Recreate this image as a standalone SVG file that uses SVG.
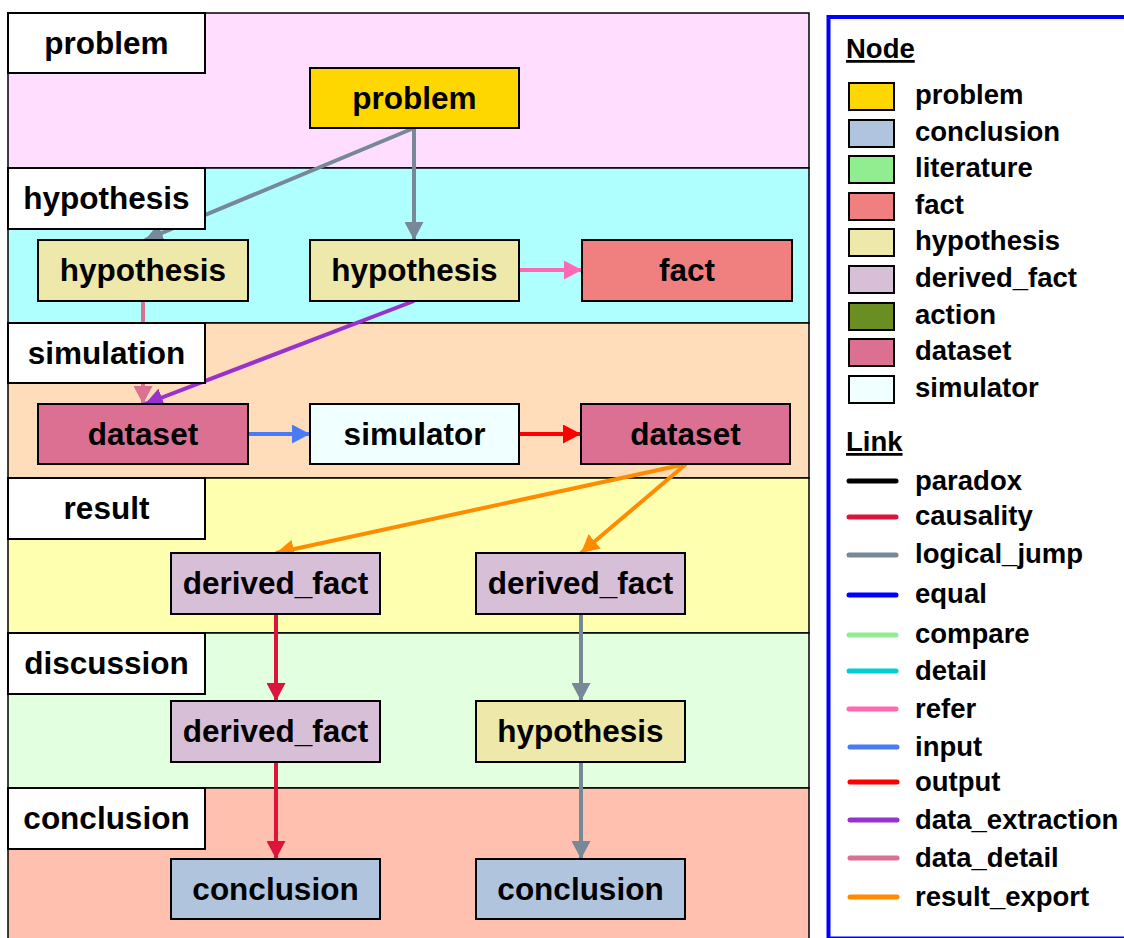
<svg xmlns="http://www.w3.org/2000/svg" width="1124" height="938" viewBox="0 0 1124 938">
<style>
text{font-family:"Liberation Sans",Arial,sans-serif;font-weight:bold;fill:#000}
.band{stroke:#000;stroke-width:1.5}
.lab{fill:#fff;stroke:#000;stroke-width:2}
.lab-t{font-size:31.5px;text-anchor:middle}
.node rect{stroke:#000;stroke-width:2}
.node text{font-size:31.5px;text-anchor:middle}
.conn line{stroke-width:4;fill:none}
.leg{font-size:27.5px}
.sw{stroke:#000;stroke-width:2}
.ll{stroke-width:5;stroke-linecap:round}
</style>
<defs>
<marker id="a-gray" markerUnits="userSpaceOnUse" markerWidth="18" markerHeight="19" refX="18" refY="9.5" orient="auto"><path d="M0,0L18,9.5L0,19z" fill="#778899"/></marker>
<marker id="a-pink" markerUnits="userSpaceOnUse" markerWidth="18" markerHeight="19" refX="18" refY="9.5" orient="auto"><path d="M0,0L18,9.5L0,19z" fill="#FF69B4"/></marker>
<marker id="a-purple" markerUnits="userSpaceOnUse" markerWidth="18" markerHeight="19" refX="18" refY="9.5" orient="auto"><path d="M0,0L18,9.5L0,19z" fill="#9932CC"/></marker>
<marker id="a-dd" markerUnits="userSpaceOnUse" markerWidth="18" markerHeight="19" refX="18" refY="9.5" orient="auto"><path d="M0,0L18,9.5L0,19z" fill="#DB7093"/></marker>
<marker id="a-blue" markerUnits="userSpaceOnUse" markerWidth="18" markerHeight="19" refX="18" refY="9.5" orient="auto"><path d="M0,0L18,9.5L0,19z" fill="#4A7BF7"/></marker>
<marker id="a-red" markerUnits="userSpaceOnUse" markerWidth="18" markerHeight="19" refX="18" refY="9.5" orient="auto"><path d="M0,0L18,9.5L0,19z" fill="#FF0000"/></marker>
<marker id="a-orange" markerUnits="userSpaceOnUse" markerWidth="18" markerHeight="19" refX="18" refY="9.5" orient="auto"><path d="M0,0L18,9.5L0,19z" fill="#FF8C00"/></marker>
<marker id="a-crimson" markerUnits="userSpaceOnUse" markerWidth="18" markerHeight="19" refX="18" refY="9.5" orient="auto"><path d="M0,0L18,9.5L0,19z" fill="#DC143C"/></marker>
</defs>
<rect width="1124" height="938" fill="#fff"/>
<g id="bands">
<rect class="band" x="8" y="13" width="801" height="155" fill="#FFDDFF"/>
<rect class="band" x="8" y="168" width="801" height="155" fill="#B0FFFF"/>
<rect class="band" x="8" y="323" width="801" height="155" fill="#FFDDBB"/>
<rect class="band" x="8" y="478" width="801" height="155" fill="#FFFFB0"/>
<rect class="band" x="8" y="633" width="801" height="155" fill="#E2FFE0"/>
<rect class="band" x="8" y="788" width="801" height="160" fill="#FFC0B0"/>
</g>
<g id="connectors" class="conn">
<line x1="414" y1="128" x2="145" y2="240" stroke="#778899" marker-end="url(#a-gray)"/>
<line x1="414" y1="128" x2="414" y2="240" stroke="#778899" marker-end="url(#a-gray)"/>
<line x1="519" y1="270" x2="582" y2="270" stroke="#FF69B4" marker-end="url(#a-pink)"/>
<line x1="143" y1="301" x2="143" y2="404" stroke="#DB7093" marker-end="url(#a-dd)"/>
<line x1="414" y1="301" x2="145" y2="404" stroke="#9932CC" marker-end="url(#a-purple)"/>
<line x1="248" y1="434" x2="310" y2="434" stroke="#4A7BF7" marker-end="url(#a-blue)"/>
<line x1="519" y1="434" x2="581" y2="434" stroke="#FF0000" marker-end="url(#a-red)"/>
<line x1="686" y1="464" x2="276" y2="553" stroke="#FF8C00" marker-end="url(#a-orange)"/>
<line x1="686" y1="464" x2="581" y2="553" stroke="#FF8C00" marker-end="url(#a-orange)"/>
<line x1="276" y1="614" x2="276" y2="701" stroke="#DC143C" marker-end="url(#a-crimson)"/>
<line x1="276" y1="762" x2="276" y2="859" stroke="#DC143C" marker-end="url(#a-crimson)"/>
<line x1="581" y1="614" x2="581" y2="701" stroke="#778899" marker-end="url(#a-gray)"/>
<line x1="581" y1="762" x2="581" y2="859" stroke="#778899" marker-end="url(#a-gray)"/>
</g>
<g id="lane-labels">
<rect class="lab" x="8" y="13" width="197" height="60"/><text class="lab-t" x="106.5" y="54">problem</text>
<rect class="lab" x="8" y="168" width="197" height="61"/><text class="lab-t" x="106.5" y="209">hypothesis</text>
<rect class="lab" x="8" y="323" width="197" height="60"/><text class="lab-t" x="106.5" y="364">simulation</text>
<rect class="lab" x="8" y="478" width="197" height="61"/><text class="lab-t" x="106.5" y="519">result</text>
<rect class="lab" x="8" y="633" width="197" height="61"/><text class="lab-t" x="106.5" y="674">discussion</text>
<rect class="lab" x="8" y="788" width="197" height="61"/><text class="lab-t" x="106.5" y="829">conclusion</text>
</g>
<g id="n-problem" class="node"><rect x="310" y="68" width="209" height="60" fill="#FFD700"/><text x="414.5" y="109">problem</text></g>
<g id="n-hyp1" class="node"><rect x="38" y="240" width="210" height="61" fill="#EEE8AA"/><text x="143" y="281">hypothesis</text></g>
<g id="n-hyp2" class="node"><rect x="310" y="240" width="209" height="61" fill="#EEE8AA"/><text x="414.5" y="281">hypothesis</text></g>
<g id="n-fact" class="node"><rect x="582" y="240" width="210" height="61" fill="#F08080"/><text x="687" y="281">fact</text></g>
<g id="n-dataset1" class="node"><rect x="38" y="404" width="210" height="60" fill="#DB7093"/><text x="143" y="445">dataset</text></g>
<g id="n-simulator" class="node"><rect x="310" y="404" width="209" height="60" fill="#F0FFFF"/><text x="414.5" y="445">simulator</text></g>
<g id="n-dataset2" class="node"><rect x="581" y="404" width="209" height="60" fill="#DB7093"/><text x="685.5" y="445">dataset</text></g>
<g id="n-df1" class="node"><rect x="171" y="553" width="209" height="61" fill="#D8BFD8"/><text x="275.5" y="594">derived_fact</text></g>
<g id="n-df2" class="node"><rect x="476" y="553" width="209" height="61" fill="#D8BFD8"/><text x="580.5" y="594">derived_fact</text></g>
<g id="n-df3" class="node"><rect x="171" y="701" width="209" height="61" fill="#D8BFD8"/><text x="275.5" y="742">derived_fact</text></g>
<g id="n-hyp3" class="node"><rect x="476" y="701" width="209" height="61" fill="#EEE8AA"/><text x="580.5" y="742">hypothesis</text></g>
<g id="n-concl1" class="node"><rect x="171" y="859" width="209" height="60" fill="#B0C4DE"/><text x="275.5" y="900">conclusion</text></g>
<g id="n-concl2" class="node"><rect x="476" y="859" width="209" height="60" fill="#B0C4DE"/><text x="580.5" y="900">conclusion</text></g>
<g id="legend">
<rect x="828.5" y="17" width="320" height="921.5" fill="#fff" stroke="#0000FF" stroke-width="4"/>
<text class="leg" x="846" y="58" text-decoration="underline">Node</text>
<rect class="sw" x="849" y="83" width="45" height="27" fill="#FFD700"/><text class="leg" x="915" y="104">problem</text>
<rect class="sw" x="849" y="120" width="45" height="27" fill="#B0C4DE"/><text class="leg" x="915" y="141">conclusion</text>
<rect class="sw" x="849" y="156" width="45" height="27" fill="#90EE90"/><text class="leg" x="915" y="177">literature</text>
<rect class="sw" x="849" y="193" width="45" height="27" fill="#F08080"/><text class="leg" x="915" y="214">fact</text>
<rect class="sw" x="849" y="229" width="45" height="27" fill="#EEE8AA"/><text class="leg" x="915" y="250">hypothesis</text>
<rect class="sw" x="849" y="266" width="45" height="27" fill="#D8BFD8"/><text class="leg" x="915" y="287">derived_fact</text>
<rect class="sw" x="849" y="303" width="45" height="27" fill="#6B8E23"/><text class="leg" x="915" y="324">action</text>
<rect class="sw" x="849" y="339" width="45" height="27" fill="#DB7093"/><text class="leg" x="915" y="360">dataset</text>
<rect class="sw" x="849" y="376" width="45" height="27" fill="#F0FFFF"/><text class="leg" x="915" y="397">simulator</text>
<text class="leg" x="846" y="451" text-decoration="underline">Link</text>
<line class="ll" x1="849" y1="481" x2="896" y2="481" stroke="#000000"/><text class="leg" x="915" y="490">paradox</text>
<line class="ll" x1="849" y1="517" x2="896" y2="517" stroke="#DC143C"/><text class="leg" x="915" y="525">causality</text>
<line class="ll" x1="849" y1="555" x2="896" y2="555" stroke="#778899"/><text class="leg" x="915" y="563">logical_jump</text>
<line class="ll" x1="849" y1="595" x2="896" y2="595" stroke="#0000FF"/><text class="leg" x="915" y="603">equal</text>
<line class="ll" x1="849" y1="635" x2="896" y2="635" stroke="#90EE90"/><text class="leg" x="915" y="643">compare</text>
<line class="ll" x1="849" y1="671" x2="896" y2="671" stroke="#00CED1"/><text class="leg" x="915" y="680">detail</text>
<line class="ll" x1="849" y1="709" x2="896" y2="709" stroke="#FF69B4"/><text class="leg" x="915" y="718">refer</text>
<line class="ll" x1="850" y1="747" x2="897" y2="747" stroke="#4A7BF7"/><text class="leg" x="915" y="756">input</text>
<line class="ll" x1="850" y1="782" x2="897" y2="782" stroke="#FF0000"/><text class="leg" x="915" y="791">output</text>
<line class="ll" x1="850" y1="820" x2="897" y2="820" stroke="#9932CC"/><text class="leg" x="915" y="829">data_extraction</text>
<line class="ll" x1="850" y1="858" x2="897" y2="858" stroke="#DB7093"/><text class="leg" x="915" y="867">data_detail</text>
<line class="ll" x1="850" y1="897" x2="897" y2="897" stroke="#FF8C00"/><text class="leg" x="915" y="906">result_export</text>
</g>
</svg>
